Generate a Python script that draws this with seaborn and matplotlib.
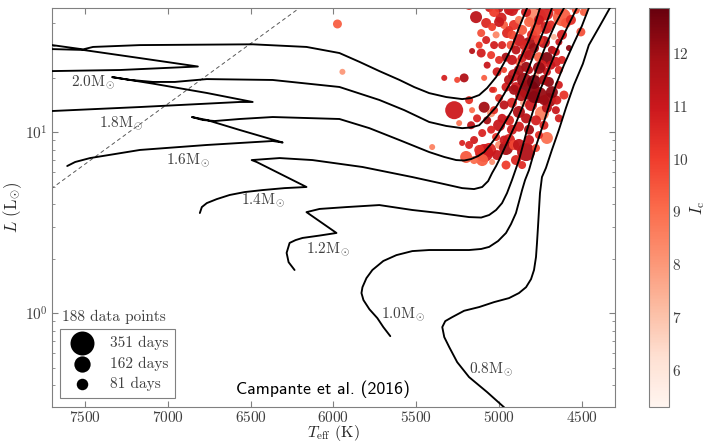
import numpy as np
import pandas as pd
import matplotlib
matplotlib.use('Agg')
import matplotlib.pyplot as plt
import seaborn as sns

# evolutionary tracks (Teff in K, L in Lsun)
trk_20_teff = [7801, 7699, 7289, 6819, 7169, 7512, 7699, 7801, 7801, 7699, 7512, 7452, 7169, 6488, 6163, 5964, 5843, 5723, 5602,
               5512, 5422, 5319, 5223, 5169, 5120, 5072, 5018, 4970, 4922, 4880, 4831, 4801]
trk_20_lum = [21.5, 21.7, 22.0, 23.0, 25.6, 28.4, 28.7, 28.9, 30.4, 30.2, 28.6, 29.5, 30.2, 30.5, 29.5, 27.3, 24.4, 21.7, 19.4,
              17.7, 16.4, 15.6, 15.2, 15.4, 16.0, 17.5, 20.1, 24.1, 29.5, 37.6, 48.4, 57.1]
trk_18_teff = [7801, 7699, 7169, 6566, 6488, 6765, 7090, 7337, 7229, 7090, 6958, 6765, 6367, 5964, 5723, 5572, 5422, 5319, 5223,
               5169, 5120, 5072, 5018, 4970, 4922, 4873, 4819, 4783, 4753, 4729]
trk_18_lum = [12.9, 13.06, 13.74, 14.65, 14.65, 16.43, 18.5, 20.1, 19.4, 18.9, 18.9, 19.6, 19.38, 17.73, 15.03, 13.2, 11.36, 10.8,
              10.5, 10.6, 10.9, 12.1, 13.74, 16.2, 19.38, 25.0, 32.2, 39.5, 48.4, 57.1]
trk_16_teff = [7608, 7560, 7470, 7319, 7169, 6765, 6367, 6307, 6566, 6765, 6855, 6789, 6717, 6566, 6367, 5964, 5783, 5602, 5422,
               5331, 5259, 5211, 5169, 5126, 5090, 5054, 5018, 4970, 4922, 4873, 4819, 4771, 4729, 4681, 4657]
trk_16_lum = [6.49, 6.83, 7.18, 7.56, 7.96, 8.48, 8.92, 8.75, 10.26, 11.65, 12.1, 11.65, 11.5, 11.8, 12.1, 11.8, 10.5, 9.03, 7.75,
              7.28, 7.00, 6.96, 7.09, 7.37, 7.75, 8.48, 9.38, 11.07, 13.2, 17.3, 22.87, 29.5, 36.6, 48.4, 57.1]
trk_14_teff = [6807, 6795, 6765, 6705, 6627, 6536, 6428, 6295, 6163, 6464, 6494, 6446, 6325, 6127, 5825, 5524, 5361, 5223, 5151,
               5102, 5066, 5042, 5018, 5000, 4958, 4928, 4898, 4861, 4819, 4771, 4717, 4663, 4608, 4578]
trk_14_lum = [3.57, 3.85, 4.05, 4.26, 4.49, 4.66, 4.78, 4.90, 4.97, 6.83, 7.00, 7.05, 7.18, 7.00, 6.41, 5.64, 5.23, 4.90, 4.84,
              4.97, 5.36, 5.94, 6.49, 7.00, 8.48, 9.75, 11.2, 13.6, 17.06, 22.6, 30.2, 39.0, 48.4, 57.1]
trk_12_teff = [6235, 6271, 6283, 6265, 6229, 6187, 6084, 5982, 6163, 6084, 5922, 5723, 5524, 5361, 5181, 5108, 5060, 5018, 4982,
               4952, 4922, 4880, 4831, 4789, 4747, 4693, 4639, 4584, 4530, 4500]
trk_12_lum = [1.73, 1.91, 2.15, 2.44, 2.53, 2.60, 2.68, 2.77, 3.61, 3.76, 3.85, 3.95, 3.71, 3.57, 3.39, 3.37, 3.48, 3.71, 4.05,
              4.60, 5.43, 7.00, 10.26, 13.6, 17.5, 23.1, 30.2, 38.5, 48.4, 57.1]
trk_10_teff = [5657, 5699, 5735, 5783, 5819, 5831, 5825, 5801, 5765, 5699, 5620, 5524, 5422, 5301, 5181, 5108, 5060, 5006, 4958,
               4928, 4898, 4880, 4861, 4843, 4819, 4783, 4741, 4699, 4657, 4608, 4554, 4500, 4458, 4416]
trk_10_lum = [0.746, 0.837, 0.938, 1.05, 1.18, 1.29, 1.39, 1.56, 1.73, 1.94, 2.09, 2.20, 2.23, 2.23, 2.23, 2.26, 2.32, 2.50, 2.77,
              3.10, 3.57, 4.11, 4.78, 5.43, 6.17, 8.06, 10.5, 13.9, 18.2, 23.45, 30.2, 38.5, 48.4, 57.1]
trk_08_teff = [4928, 4970, 5072, 5181, 5253, 5301, 5331, 5343, 5325, 5283, 5211, 5120, 5030, 4940, 4880, 4837, 4807, 4789, 4777,
               4771, 4765, 4759, 4753, 4741, 4717, 4681, 4639, 4596, 4548, 4494, 4458, 4392, 4331, 4301]
trk_08_lum = [0.273, 0.302, 0.366, 0.443, 0.536, 0.649, 0.737, 0.837, 0.903, 0.950, 1.03, 1.08, 1.15, 1.21, 1.29, 1.39, 1.54, 1.73,
              2.04, 2.44, 2.99, 3.71, 4.60, 5.64, 6.33, 7.96, 10.26, 13.6, 18.2, 23.8, 30.2, 38.5, 48.4, 57.1]

track_labels = ['2.0M$_{\\odot}$', '1.8M$_{\\odot}$', '1.6M$_{\\odot}$', '1.4M$_{\\odot}$',
                '1.2M$_{\\odot}$', '1.0M$_{\\odot}$', '0.8M$_{\\odot}$']
label_teff = [7452, 7283, 6879, 6428, 6036, 5578, 5048]
label_lum = [18.9, 11.2, 7.00, 4.21, 2.26, 0.987, 0.490]

edge_teff = [7771, 6084]
edge_lum = [4.39, 58.3]

# stars
teff = [5976, 5946, 5139, 5078, 5042, 4988, 4940, 4958, 5108, 5018, 4952, 5163, 5108, 5331, 5253, 5211, 5090, 5030, 4958, 4970,
        4880, 4777, 4717, 4620, 4596, 4669, 4639, 4506, 4578, 4819, 4837, 4759, 4711, 4657, 4777, 4837, 4898, 4819, 4759, 4699,
        4651, 5271, 5163, 5090, 5048, 5042, 4958, 4922, 4849, 4741, 4711, 4819, 4880, 4940, 5072, 5102, 5018, 4940, 5000, 5060,
        5090, 5199, 5223, 5404, 5241, 5102, 5042, 4958, 4837, 4898, 4837, 4861, 4801, 4717, 4741, 4861, 4699, 4639, 4759, 4669,
        4898, 5000, 5060, 4910, 4880, 4928, 4789, 4729, 4681, 4777, 4819, 4910, 4849, 4789, 4729, 4867, 4807, 4880, 4777, 4970,
        5000, 5000, 5048, 4681, 4711, 4639, 4970, 5120, 4922, 5000, 4819, 4759, 4910, 5151, 5169, 5181, 4729, 4657, 4620, 4566,
        4536, 4880, 5030, 5072, 4819,
        5181, 5108, 5030, 4922, 4849, 4711, 4639, 4566, 4488, 5000, 4940, 4849, 4759, 4687, 4657, 4898, 4982, 5048, 5012, 4940,
        4880, 4759, 4687, 4620, 4608, 4711, 4837, 4922, 4982, 5030, 5133, 5120, 5012, 4880, 4777, 4861, 4958, 5151, 5181, 4729,
        4819, 4759, 4922, 5078, 4970, 4789, 4910, 4639]
lum = [39.5, 21.5, 43.1, 40.0, 38.0, 42.6, 47.2, 52.3, 35.2, 34.4, 35.2, 28.0, 27.3, 19.9, 19.4, 19.9, 19.9, 17.1, 25.9, 22.0,
       24.4, 43.1, 45.5, 43.1, 40.0, 33.5, 31.4, 35.7, 29.1, 31.0, 27.3, 25.9, 25.6, 24.4, 20.6, 22.9, 17.7, 17.1, 16.0, 15.0,
       15.0, 13.2, 13.2, 13.7, 12.7, 17.1, 17.7, 14.5, 14.5, 12.7, 9.27, 10.3, 10.7, 11.6, 11.6, 9.87, 9.38, 9.03, 8.48, 7.96,
       7.66, 7.28, 8.70, 8.26, 11.2, 7.00, 6.83, 8.16, 7.75, 7.00, 46.0, 36.6, 34.4, 37.6, 23.4, 25.6, 18.9, 18.2, 51.6, 50.3,
       50.3, 48.4, 48.4, 39.0, 32.2, 30.2, 29.1, 31.4, 28.4, 36.6, 40.5, 20.6, 19.4, 18.9, 19.4, 16.0, 14.1, 12.9, 11.6, 14.1,
       15.4, 10.9, 10.3, 16.6, 21.5, 22.0, 39.0, 30.2, 25.0, 25.0, 9.03, 9.62, 8.48, 9.03, 10.9, 15.0, 10.9, 13.2, 34.4, 41.6,
       47.2, 41.6, 30.2, 23.4, 22.0,
       50.3, 51.6, 46.0, 47.2, 51.6, 50.3, 47.2, 50.3, 46.0, 40.5, 36.6, 30.2, 41.6, 39.0, 27.7, 28.4, 30.2, 26.6, 21.5, 19.4,
       22.0, 22.6, 23.4, 25.0, 16.0, 13.6, 11.9, 10.3, 11.9, 13.2, 11.9, 7.96, 7.46, 8.48, 8.16, 6.57, 6.57, 7.00, 8.48, 15.0,
       26.6, 32.2, 34.4, 32.2, 9.03, 15.6, 17.1, 11.9]
ic_mag = [9.3, 8.0, 11.3, 10.5, 10.0, 10.8, 11.0, 10.6, 9.6, 8.4, 10.5, 11.5, 10.8, 10.7, 9.8, 11.6, 9.3, 9.9, 11.8, 9.8,
          9.0, 8.3, 10.6, 9.3, 9.5, 7.3, 11.0, 9.6, 12.2, 11.9, 10.6, 9.2, 12.4, 10.8, 7.6, 12.0, 10.9, 12.3, 12.1, 11.9,
          10.8, 10.9, 9.0, 11.9, 8.2, 10.5, 10.8, 10.6, 7.6, 8.6, 8.9, 11.9, 10.8, 10.5, 11.8, 10.6, 10.2, 10.6, 8.2, 10.5,
          10.9, 9.4, 10.6, 8.5, 8.8, 9.3, 8.2, 11.8, 11.6, 10.5, 10.8, 9.4, 10.6, 10.8, 10.8, 10.7, 12.2, 10.8, 11.0, 10.2,
          10.6, 11.2, 10.8, 10.2, 10.9, 9.6, 12.0, 11.2, 11.6, 9.8, 9.1, 11.2, 12.0, 12.6, 11.8, 11.5, 10.9, 11.6, 10.7, 11.3,
          10.4, 11.0, 10.6, 12.2, 10.9, 10.5, 9.3, 10.0, 11.0, 10.4, 11.0, 10.3, 9.8, 10.8, 11.2, 10.3, 10.5, 11.0, 10.7, 10.3,
          9.5, 8.8, 10.8, 11.0, 11.4,
          10.4, 11.0, 10.0, 10.9, 9.6, 10.8, 9.8, 10.6, 9.2, 11.0, 10.3, 10.6, 10.9, 10.4, 10.9, 11.3, 10.6, 10.1, 10.8, 11.4,
          11.7, 12.0, 11.0, 10.6, 10.2, 11.4, 11.3, 10.8, 11.0, 10.3, 10.6, 10.3, 11.0, 11.2, 9.8, 10.4, 10.0, 9.0, 10.6, 12.0,
          11.4, 10.2, 9.8, 10.7, 10.9, 12.3, 11.8, 10.7]
days = [49, 22, 88, 61, 39, 74, 61, 61, 39, 30, 61, 22, 49, 22, 22, 49, 22, 22, 49, 22,
        39, 244, 137, 198, 61, 22, 30, 49, 22, 88, 61, 61, 88, 61, 22, 61, 61, 244, 156, 120,
        49, 198, 22, 74, 39, 22, 49, 61, 39, 120, 88, 61, 61, 61, 39, 39, 39, 88, 39, 120,
        198, 88, 22, 22, 22, 88, 22, 120, 198, 61, 61, 61, 61, 88, 61, 49, 61, 39, 120, 88,
        88, 49, 39, 61, 88, 49, 61, 88, 39, 88, 61, 88, 120, 120, 61, 88, 88, 88, 61, 49,
        39, 88, 39, 88, 39, 39, 39, 30, 61, 39, 61, 39, 61, 39, 39, 39, 49, 39, 61, 61,
        39, 39, 39, 30, 39,
        61, 49, 61, 88, 88, 61, 61, 49, 39, 61, 39, 61, 61, 49, 39, 49, 39, 39, 49, 61,
        61, 88, 49, 39, 49, 61, 61, 61, 49, 39, 39, 61, 61, 88, 39, 39, 49, 39, 39, 61,
        61, 61, 49, 39, 49, 88, 61, 39]

legend_days = [351, 162, 81]
n_points = 188

sns.set_style('ticks')
plt.rcParams['font.family'] = 'serif'
plt.rcParams['font.serif'] = ['cmr10']
plt.rcParams['mathtext.fontset'] = 'cm'
plt.rcParams['axes.formatter.use_mathtext'] = True

df = pd.DataFrame({'teff': teff, 'lum': lum, 'ic': ic_mag, 'days': days})

fig = plt.figure(figsize=(7.09, 4.42), dpi=100)
ax = fig.add_axes([0.0733, 0.0792, 0.7941, 0.9027])
cax = fig.add_axes([0.9154, 0.0792, 0.0282, 0.9027])

vmin, vmax = 5.3, 12.85
sns.scatterplot(data=df, x='teff', y='lum', hue='ic', size='days', palette='Reds',
                hue_norm=(vmin, vmax), sizes=(0, 298), size_norm=(0, 351),
                linewidth=0, alpha=0.95, legend=False, ax=ax, zorder=2)

tracks = [(trk_20_teff, trk_20_lum), (trk_18_teff, trk_18_lum), (trk_16_teff, trk_16_lum),
          (trk_14_teff, trk_14_lum), (trk_12_teff, trk_12_lum), (trk_10_teff, trk_10_lum),
          (trk_08_teff, trk_08_lum)]
for tt, ll in tracks:
    ax.plot(tt, ll, color='black', lw=1.35, zorder=3, solid_joinstyle='round')
for lab, tt, ll in zip(track_labels, label_teff, label_lum):
    ax.text(tt, ll, lab, ha='center', va='center', fontsize=11, color='0.25')

ax.plot(edge_teff, edge_lum, ls='--', color='0.35', lw=0.7, dashes=(4, 3), zorder=1)

ax.set_yscale('log')
ax.set_xlim(7700, 4300)
ax.set_ylim(0.303, 48.4)
ax.set_xticks([7500, 7000, 6500, 6000, 5500, 5000, 4500])
ax.set_xlabel(r'$T_{\rm eff}$ (K)', fontsize=11.5, labelpad=-1)
ax.set_ylabel(r'$L$ (L$_{\odot}$)', fontsize=12, labelpad=1)
ax.tick_params(axis='both', which='both', direction='in', top=True, right=True,
               color='0.5', labelsize=11, labelcolor='0.25', pad=3)
ax.tick_params(axis='x', pad=2)
ax.tick_params(which='major', length=4)
ax.tick_params(which='minor', length=2.5)
for sp in ax.spines.values():
    sp.set_color('0.5')

ax.text(0.481, 0.045, 'Campante et al. (2016)', transform=ax.transAxes, ha='center',
        va='center', fontsize=12.8, family='cmss10', color='black')

# size legend
handles = [ax.scatter([], [], s=d * 298 / 351, color='black', linewidth=0) for d in legend_days]
leg = ax.legend(handles, ['%d days' % d for d in legend_days], loc='lower left',
                bbox_to_anchor=(0.014, 0.023), borderaxespad=0, frameon=True, fancybox=False,
                fontsize=11, labelspacing=0.4, handletextpad=0.8, borderpad=0.45,
                edgecolor='0.5', framealpha=1)
leg.get_frame().set_linewidth(0.8)
for t in leg.get_texts():
    t.set_color('0.25')
ax.text(0.018, 0.216, '%d data points' % n_points, transform=ax.transAxes, fontsize=11,
        color='0.25', va='baseline')

sm = plt.cm.ScalarMappable(norm=plt.Normalize(vmin, vmax), cmap='Reds')
cb = fig.colorbar(sm, cax=cax)
cb.set_ticks([6, 7, 8, 9, 10, 11, 12])
cb.ax.tick_params(labelsize=11, labelcolor='0.25', color='0.5', direction='in', length=4, pad=2)
cb.outline.set_edgecolor('0.5')
cb.set_label(r'$I_{\rm c}$', fontsize=12, labelpad=0)

fig.savefig('out.png', dpi=100)
